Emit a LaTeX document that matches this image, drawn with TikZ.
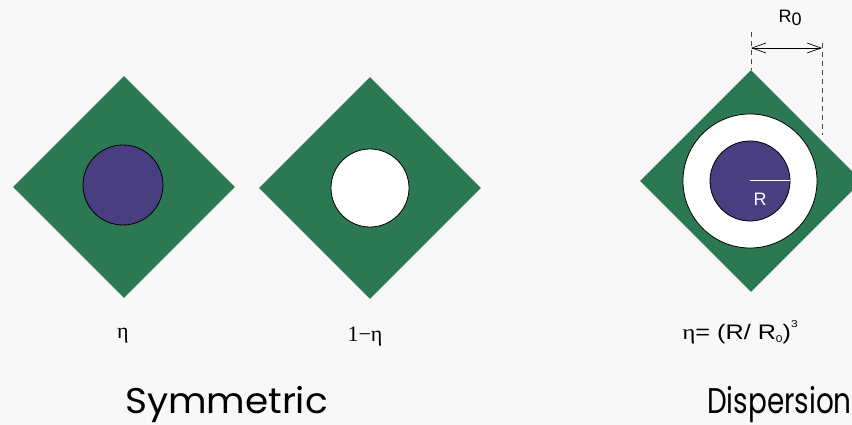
\documentclass[tikz,border=0pt]{standalone}
\usepackage{fontspec}
\setmainfont{Liberation Serif}
\newfontfamily\labsans{Liberation Sans}
\newfontfamily\titlefont{Poppins}
\usetikzlibrary{shapes.geometric,arrows.meta}
\definecolor{bgc}{RGB}{248,248,248}
\definecolor{greenc}{RGB}{44,120,82}
\definecolor{bluec}{RGB}{72,62,128}
\definecolor{dashc}{RGB}{70,70,70}
\tikzset{
  sq/.style={diamond,aspect=1,fill=greenc,draw=none,minimum width=222pt,minimum height=222pt,inner sep=0pt},
  blueball/.style={circle,fill=bluec,draw=black,line width=0.8pt,minimum size=80pt,inner sep=0pt},
  hole/.style={circle,fill=white,draw=black,line width=0.8pt,inner sep=0pt},
  serlab/.style={font=\fontsize{22}{24}\selectfont,inner sep=0pt},
  sanslab/.style={font=\labsans\fontsize{18}{20}\selectfont,inner sep=0pt},
  title/.style={font=\titlefont\fontsize{34}{38}\selectfont,inner sep=0pt},
  guide/.style={draw=dashc,line width=0.7pt,dash pattern=on 5pt off 4pt},
}
\begin{document}
\begin{tikzpicture}[x=1pt,y=-1pt]
\useasboundingbox (0,0) rectangle (852,425);
\clip (0,0) rectangle (852,425);
\fill[bgc] (0,0) rectangle (852,425);
% first
\node[sq] (d1) at (124,187) {};
\node[blueball] (c1) at (123,185) {};
% second
\node[sq] (d2) at (370,188) {};
\node[hole,minimum size=78pt] (c2) at (370,188) {};
% third
\node[sq] (d3) at (751,181) {};
\node[hole,minimum size=134pt] (c3) at (750,181) {};
\node[blueball] (c4) at (750,181) {};
\draw[white,line width=1pt] (c4.center) -- (c4.east);
\node[font=\labsans\fontsize{18}{20}\selectfont,text=white] (rl) at (760,199) {R};
% dimension
\coordinate (t1) at (751,32);
\coordinate (t2) at (822,43);
\coordinate (t3) at (822,135);
\draw[guide] (t1) -- (d3.north);
\draw[guide] (t2) -- (t3);
\coordinate (a1) at (751,48);
\coordinate (a2) at (822,48);
\draw[line width=0.7pt,{Straight Barb[length=14pt,width=10pt]}-{Straight Barb[length=14pt,width=10pt]}] (a1) -- (a2);
\node[sanslab] (r0) at (790,18) {R\raisebox{-0.35ex}{0}};
% labels
\node[serlab] (l1) at (123,336) {η};
\node[serlab] (l2) at (365,337) {1−η};
\node[font=\labsans\fontsize{21}{24}\selectfont,inner sep=0pt] (l3) at (740,332) {\scalebox{1.2}[1]{{\fontsize{21}{24}\rmfamily η}= (R/ R\raisebox{-0.3ex}{\fontsize{10}{11}\selectfont 0})\raisebox{1.1ex}{\fontsize{10}{11}\selectfont 3}}};
\node[title] (s1) at (226.5,405) {\scalebox{1.1}[1.05]{Symmetric}};
\node[title,anchor=east] (s2) at (852,405) {\scalebox{0.82}[1.05]{Dispersion}};
\end{tikzpicture}
\end{document}
